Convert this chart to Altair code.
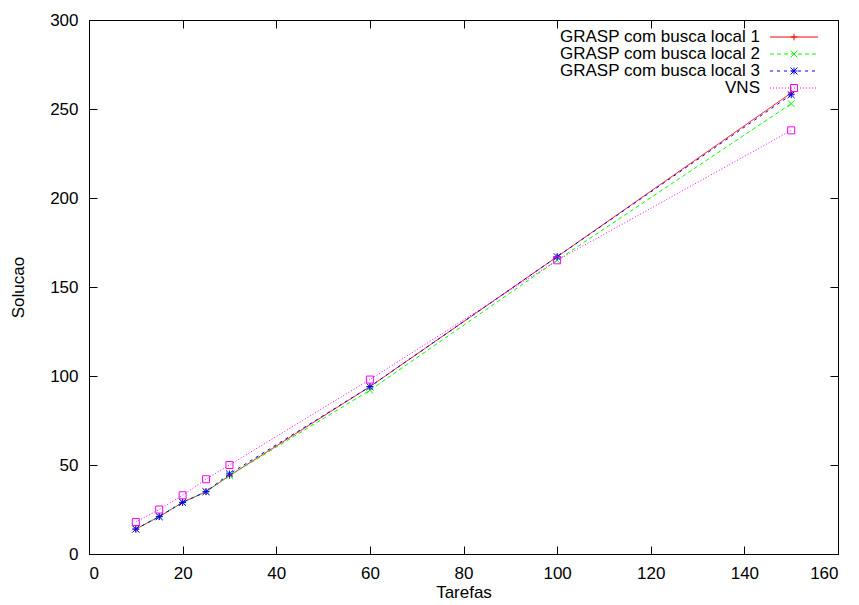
import altair as alt
import pandas as pd

# ---- data ----
tarefas = [10, 15, 20, 25, 30, 60, 100, 150]
grasp1 = [14, 21, 29, 35, 44, 94, 167, 259]
grasp2 = [14, 21, 29, 35, 44, 92, 165, 253]
grasp3 = [14, 21, 29, 35, 45, 94, 167, 258]
vns = [18, 25, 33, 42, 50, 98, 165, 238]
series_names = ["GRASP com busca local 1", "GRASP com busca local 2",
                "GRASP com busca local 3", "VNS"]
x_ticks = [0, 20, 40, 60, 80, 100, 120, 140, 160]
y_ticks = [0, 50, 100, 150, 200, 250, 300]

# ---- styles ----
FONT = "Liberation Sans"
FS = 17
colors = ["#ff0000", "#00ff00", "#0000ff", "#ff00ff"]
dashes = [[1, 0], [4, 3], [3, 4], [1, 2]]
marker_sizes = [44, 49, 72, 64]
marker_paths = [
    "M-1,0H1M0,-1V1",                                   # plus
    "M-1,-1L1,1M-1,1L1,-1",                             # cross
    "M-1,0H1M0,-1V1M-1,-1L1,1M-1,1L1,-1",               # star
    "M-1,-1H1V1H-1Z",                                   # open square
]

values = [grasp1, grasp2, grasp3, vns]
rows = []
for name, vals, mk in zip(series_names, values, marker_paths):
    for t, v in zip(tarefas, vals):
        rows.append({"series": name, "tarefas": t, "solucao": v, "marker": mk})
df = pd.DataFrame(rows)
legend_df = pd.DataFrame({"series": series_names, "marker": marker_paths})

color_scale = alt.Scale(domain=series_names, range=colors)
dash_scale = alt.Scale(domain=series_names, range=dashes)
size_scale = alt.Scale(domain=series_names, range=marker_sizes)
xscale = alt.Scale(domain=[0, 160], nice=False, zero=False)
yscale = alt.Scale(domain=[0, 300], nice=False, zero=False)
TICK = {"expr": "-8"}

base = alt.Chart(df)

lines = base.mark_line(strokeWidth=1).encode(
    x=alt.X("tarefas:Q", scale=xscale,
            axis=alt.Axis(orient="bottom", values=x_ticks, title="Tarefas",
                          tickSize=TICK, labelPadding=19, titlePadding=3)),
    y=alt.Y("solucao:Q", scale=yscale,
            axis=alt.Axis(orient="left", values=y_ticks, title="Solucao",
                          tickSize=TICK, labelPadding=19, titlePadding=22)),
    color=alt.Color("series:N", scale=color_scale, legend=None),
    strokeDash=alt.StrokeDash("series:N", scale=dash_scale, legend=None),
)

points = base.mark_point(filled=False, strokeWidth=1, opacity=1).encode(
    x=alt.X("tarefas:Q", scale=xscale,
            axis=alt.Axis(orient="top", values=x_ticks, labels=False, title=None,
                          tickSize=TICK)),
    y=alt.Y("solucao:Q", scale=yscale,
            axis=alt.Axis(orient="right", values=y_ticks, labels=False, title=None,
                          tickSize=TICK)),
    color=alt.Color("series:N", scale=color_scale, legend=None),
    size=alt.Size("series:N", scale=size_scale, legend=None),
    shape=alt.Shape("marker:N", scale=None),
)

# ---- gnuplot-style key (labels right-aligned, sample line + marker) ----
key_y = alt.Y("series:N", axis=None,
              scale=alt.Scale(type="point", domain=series_names, range=[17, 68],
                              padding=0))
key_base = alt.Chart(legend_df)

key_text = key_base.mark_text(align="right", baseline="middle", font=FONT,
                              fontSize=FS, color="black").encode(
    x=alt.value(671), y=key_y, text="series:N")

key_line = key_base.mark_rule(strokeWidth=1).encode(
    x=alt.value(681), x2=alt.value(729), y=key_y,
    color=alt.Color("series:N", scale=color_scale, legend=None),
    strokeDash=alt.StrokeDash("series:N", scale=dash_scale, legend=None),
)

key_mark = key_base.mark_point(filled=False, strokeWidth=1, opacity=1).encode(
    x=alt.value(705), y=key_y,
    color=alt.Color("series:N", scale=color_scale, legend=None),
    size=alt.Size("series:N", scale=size_scale, legend=None),
    shape=alt.Shape("marker:N", scale=None),
)

chart = alt.layer(lines, points, key_line, key_mark, key_text).resolve_scale(
    y="independent"
).resolve_axis(
    x="independent", y="independent"
).properties(
    width=749, height=534,
    autosize=alt.AutoSizeParams(type="none"),
    padding={"left": 81, "top": 12, "right": 5, "bottom": 50},
    background="white",
).configure_view(
    stroke="black", strokeWidth=1
).configure_axis(
    grid=False, domain=False, tickColor="black", tickWidth=1,
    labelFont=FONT, labelFontSize=FS, labelColor="black",
    titleFont=FONT, titleFontSize=FS, titleFontWeight="normal", titleColor="black",
)

chart.save("out.html", embed_options={"renderer": "svg", "actions": False})
